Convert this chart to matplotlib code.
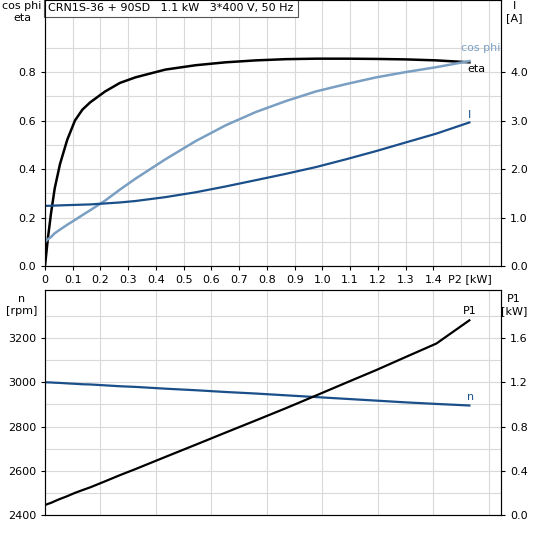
import matplotlib
matplotlib.use("Agg")
import matplotlib.pyplot as plt
import numpy as np

p2 = [0, 0.01, 0.022, 0.035, 0.054, 0.08, 0.108, 0.135, 0.163, 0.217, 0.27, 0.326, 0.434, 0.543, 0.651, 0.76, 0.868, 0.977, 1.085, 1.194, 1.302, 1.411, 1.53]
eta = [0, 0.11, 0.22, 0.32, 0.42, 0.52, 0.6, 0.645, 0.675, 0.72, 0.755, 0.778, 0.81, 0.828, 0.84, 0.848, 0.853, 0.855, 0.855, 0.854, 0.852, 0.848, 0.84]
cosphi = [0.1, 0.11, 0.12, 0.135, 0.15, 0.17, 0.19, 0.21, 0.23, 0.27, 0.315, 0.36, 0.44, 0.515, 0.58, 0.635, 0.68, 0.72, 0.75, 0.778, 0.80, 0.82, 0.845]
cur = [1.24, 1.241, 1.243, 1.246, 1.25, 1.255, 1.26, 1.265, 1.27, 1.29, 1.31, 1.34, 1.42, 1.52, 1.64, 1.77, 1.9, 2.04, 2.2, 2.37, 2.55, 2.73, 2.96]
n_rpm = [3000, 2999.5, 2999, 2998, 2997, 2995, 2993, 2991, 2990, 2986, 2982, 2979, 2971, 2964, 2956, 2949, 2941, 2933, 2925, 2917, 2909, 2902, 2895]
p1 = [0.09, 0.1, 0.11, 0.125, 0.145, 0.17, 0.2, 0.225, 0.25, 0.305, 0.36, 0.415, 0.525, 0.635, 0.745, 0.855, 0.965, 1.08, 1.195, 1.31, 1.43, 1.55, 1.76]
xticks = [0, 0.1, 0.2, 0.3, 0.4, 0.5, 0.6, 0.7, 0.8, 0.9, 1.0, 1.1, 1.2, 1.3, 1.4]

BLK = "#000000"; LB = "#7a9fc2"; DB = "#1a4f8a"; GR = "#d9d9d9"
fs = 8
fig = plt.figure(figsize=(5.33, 5.33), dpi=100)
ax1 = fig.add_axes([45/533, 1-266/533, 456/533, 266/533])
ax2 = fig.add_axes([45/533, 1-515/533, 456/533, 225/533])
xmax = 1.644
for ax in (ax1, ax2):
    ax.set_xlim(0, xmax)
    ax.tick_params(labelsize=fs, length=3)
    for s in ax.spines.values():
        s.set_color("#555555")
ax1.set_ylim(0, 1.097)
ax1.set_yticks([0, 0.2, 0.4, 0.6, 0.8])
ax1.set_yticklabels(["0.0", "0.2", "0.4", "0.6", "0.8"])
ax1.set_xticks(xticks)
ax1.set_xticklabels(["0"] + [f"{v:.1f}" for v in xticks[1:]])
ax1.set_xticks([1.5, 1.6], minor=True)
ax1.set_yticks(np.arange(0.1, 1.1, 0.2), minor=True)
ax1.tick_params(which="minor", length=0)
ax1.grid(True, which="both", color=GR, lw=0.8)
ax1.text(1.53, -0.033, "P2 [kW]", fontsize=fs, ha="center", va="top")
ax1.plot(p2, eta, color=BLK, lw=1.8)
ax1.plot(p2, cosphi, color=LB, lw=1.8)
ax1r = ax1.twinx()
ax1r.set_ylim(0, 5.485)
ax1r.set_yticks([0, 1, 2, 3, 4])
ax1r.set_yticklabels(["0.0", "1.0", "2.0", "3.0", "4.0"])
ax1r.tick_params(labelsize=fs, length=3)
ax1r.plot(p2, cur, color=DB, lw=1.6)
ax1.text(1.57, 0.885, "cos phi", color=LB, fontsize=fs, ha="center")
ax1.text(1.555, 0.80, "eta", color=BLK, fontsize=fs, ha="center")
ax1r.text(1.53, 3.05, "I", color=DB, fontsize=fs, ha="center")
ax1.text(0.012, 1.085, "CRN1S-36 + 90SD   1.1 kW   3*400 V, 50 Hz", fontsize=8, va="top",
         bbox=dict(boxstyle="square,pad=0.35", fc="white", ec="#555555", lw=0.8))
fig.text(22/533, 1-12/533, "cos phi\neta", fontsize=fs, ha="center", va="center")
fig.text(514/533, 1-12/533, "I\n[A]", fontsize=fs, ha="center", va="center")

ax2.set_ylim(2400, 3417)
ax2.set_yticks([2400, 2600, 2800, 3000, 3200])
ax2.set_xticks(np.arange(0.2, 1.65, 0.2))
ax2.set_yticks(np.arange(2500, 3417, 200), minor=True)
ax2.tick_params(which="minor", length=0)
ax2.tick_params(axis="x", labelbottom=False, length=0)
ax2.grid(True, which="both", color=GR, lw=0.8)
ax2.plot(p2, n_rpm, color=DB, lw=1.6)
ax2r = ax2.twinx()
ax2r.set_ylim(0, 2.034)
ax2r.set_yticks([0, 0.4, 0.8, 1.2, 1.6])
ax2r.set_yticklabels(["0.0", "0.4", "0.8", "1.2", "1.6"])
ax2r.tick_params(labelsize=fs, length=3)
ax2r.plot(p2, p1, color=BLK, lw=1.6)
ax2r.text(1.53, 1.82, "P1", fontsize=fs, ha="center")
ax2.text(1.535, 2920, "n", color=DB, fontsize=fs, ha="center")
fig.text(22/533, 1-305/533, "n\n[rpm]", fontsize=fs, ha="center", va="center")
fig.text(514/533, 1-305/533, "P1\n[kW]", fontsize=fs, ha="center", va="center")
fig.savefig("out.png", dpi=100)
